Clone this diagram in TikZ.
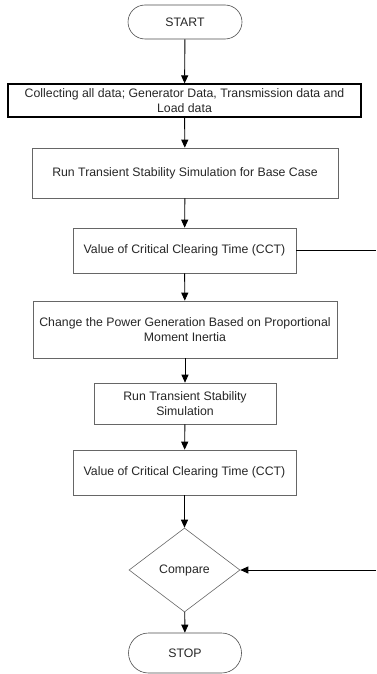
\documentclass[tikz,border=0pt]{standalone}
\usepackage{fontspec}
\setmainfont{Liberation Sans}
\usetikzlibrary{shapes.geometric,arrows.meta}
\tikzset{
    box/.style={draw=black!60, line width=0.6pt, align=center, inner sep=2pt, text=black!85, font=\fontsize{12.3}{14.5}\selectfont},
    term/.style={box, rounded corners=17pt, draw=black!70},
    flow/.style={-{Triangle[length=8pt,width=7pt]}, line width=0.9pt}
}
\begin{document}
\begin{tikzpicture}[x=1pt,y=-1pt]
        \useasboundingbox (0,0) rectangle (376,674);
        \node[term, minimum width=114pt, minimum height=34pt](start) at (185,22){START};
        \node[box, draw=black, line width=1.2pt, minimum width=353pt, minimum height=33pt](col) at (184.5,100.5){Collecting all data; Generator Data, Transmission data and\\Load data};
        \node[box, minimum width=306pt, minimum height=50pt](run1) at (185,173){Run Transient Stability Simulation for Base Case};
        \node[box, minimum width=223pt, minimum height=45pt](cct1) at (184.5,250.5){Value of Critical Clearing Time (CCT)};
        \node[box, minimum width=304pt, minimum height=57pt](chg) at (185,329.5){Change the Power Generation Based on Proportional\\Moment Inertia};
        \node[box, minimum width=182pt, minimum height=41pt](run2) at (185,403.5){Run Transient Stability\\Simulation};
        \node[box, minimum width=223pt, minimum height=45pt](cct2) at (184.5,472.5){Value of Critical Clearing Time (CCT)};
        \node[box, diamond, aspect=1.32, inner sep=0pt, minimum width=111pt, minimum height=84pt](cmp) at (184.5,570){Compare};
        \node[term, rounded corners=20pt, minimum width=113pt, minimum height=40pt](stop) at (185,653){STOP};
        \coordinate (r1) at (376,250.5);
        \coordinate (r2) at (376,570);
        \draw[flow](start)--(col);
        \draw[flow](col)--(run1);
        \draw[flow](run1)--(cct1);
        \draw[flow](cct1)--(chg);
        \draw[flow](chg)--(run2);
        \draw[flow](run2)--(cct2);
        \draw[flow](cct2)--(cmp);
        \draw[flow](cmp)--(stop);
        \draw[line width=0.9pt](cct1.east)--(r1);
        \draw[flow](r2)--(cmp.east);
    \end{tikzpicture}
\end{document}
